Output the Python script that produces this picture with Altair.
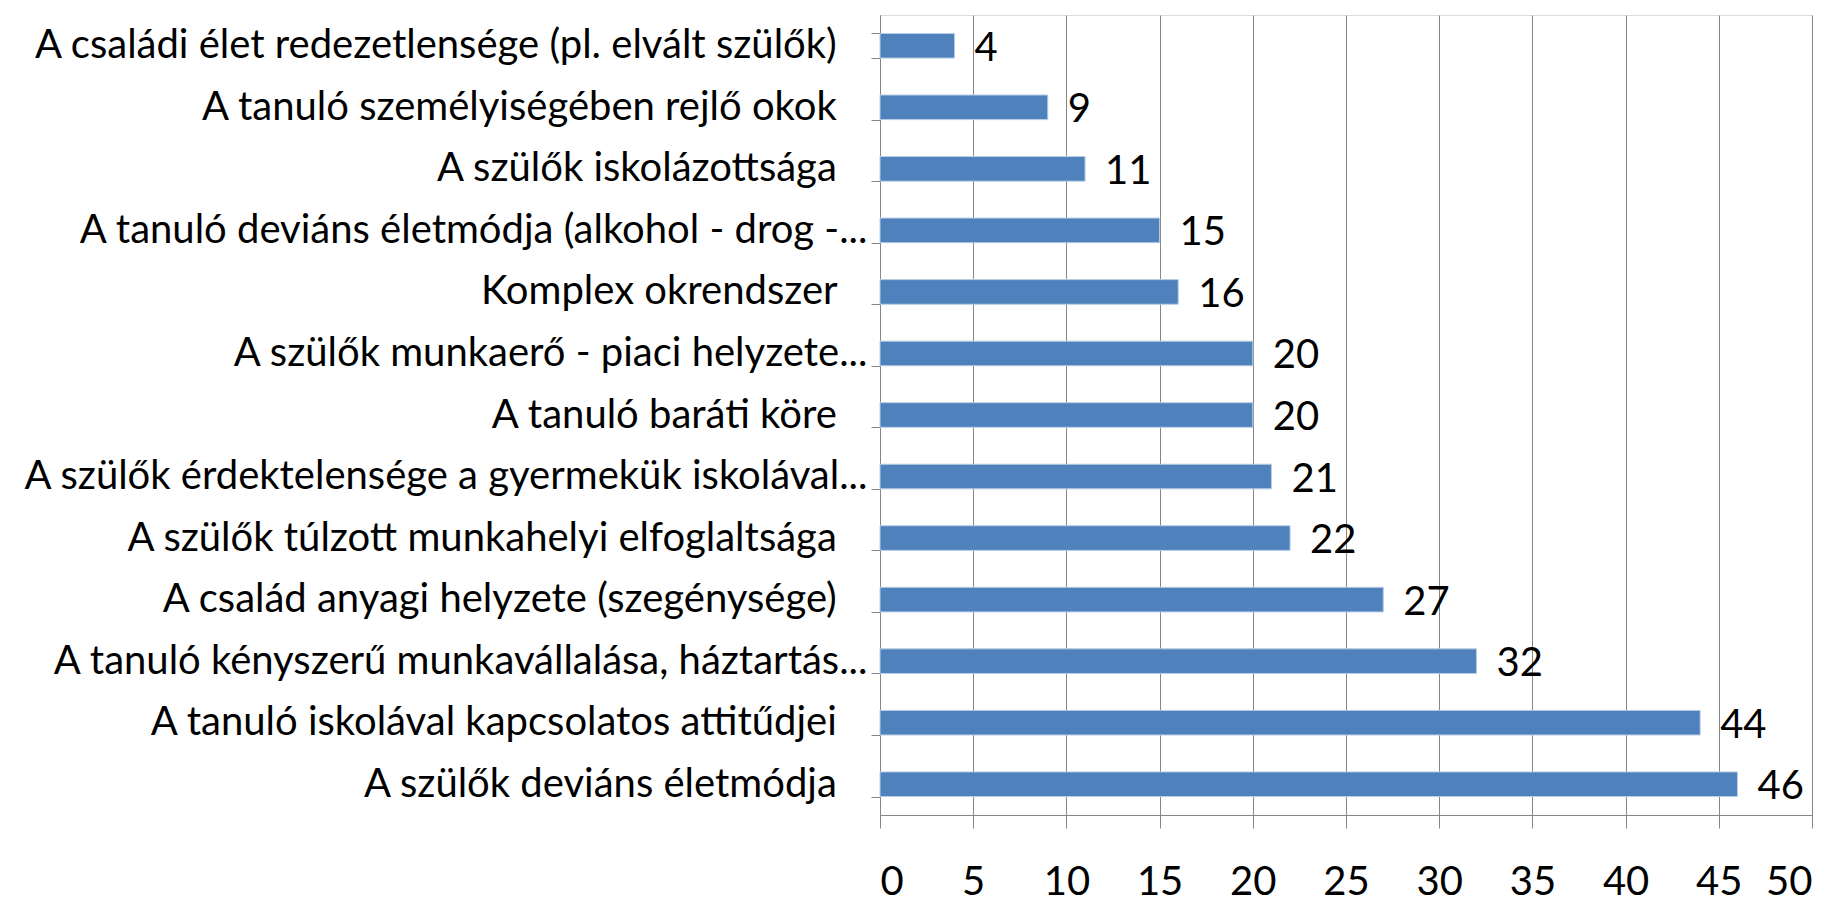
import altair as alt
import pandas as pd

NB = "\u00a0\u00a0\u00a0\u200b"
categories = [
    "A családi élet redezetlensége  (pl. elvált szülők)" + NB,
    "A tanuló személyiségében rejlő  okok" + NB,
    "A szülők iskolázottsága" + NB,
    "A tanuló deviáns életmódja (alkohol - drog -...",
    "Komplex okrendszer" + NB,
    "A szülők munkaerő - piaci helyzete...",
    "A tanuló baráti köre" + NB,
    "A szülők érdektelensége  a gyermekük iskolával...",
    "A szülők túlzott munkahelyi elfoglaltsága" + NB,
    "A család anyagi helyzete (szegénysége)" + NB,
    "A tanuló kényszerű munkavállalása, háztartás...",
    "A tanuló iskolával kapcsolatos attitűdjei" + NB,
    "A szülők deviáns életmódja" + NB,
]
values = [4, 9, 11, 15, 16, 20, 20, 21, 22, 27, 32, 44, 46]
x_ticks = [0, 5, 10, 15, 20, 25, 30, 35, 40, 45, 50]

df = pd.DataFrame({"cat": categories, "val": values})

FONT = "Lato"
FS = 40

y_enc = alt.Y(
    "cat:N",
    sort=categories,
    scale=alt.Scale(paddingInner=0.6, paddingOuter=0.3),
    axis=alt.Axis(
        title=None,
        labelFont=FONT,
        labelFontSize=FS,
        labelColor="#000000",
        labelLimit=2000,
        labelPadding=4,
        tickBand="extent",
        tickSize=9,
        tickColor="#868686",
        domainColor="#868686",
        grid=False,
    ),
)
x_enc = alt.X(
    "val:Q",
    scale=alt.Scale(domain=[0, 50], nice=False),
    axis=alt.Axis(
        title=None,
        values=x_ticks,
        labelFont=FONT,
        labelFontSize=FS,
        labelColor="#000000",
        labelPadding=34,
        tickSize=13,
        tickColor="#868686",
        domainColor="#868686",
        gridColor="#868686",
        grid=True,
    ),
)

bars = alt.Chart(df).mark_bar(color="#4F81BD", stroke="#B9CDE5", strokeWidth=1).encode(
    y=y_enc, x=x_enc
)
text = alt.Chart(df).mark_text(
    align="left", baseline="middle", dx=20, dy=3, font=FONT, fontSize=FS, color="#000000"
).encode(y=alt.Y("cat:N", sort=categories), x="val:Q", text="val:Q")

chart = (
    alt.layer(bars, text)
    .properties(
        width=932,
        height=800,
        autosize=alt.AutoSizeParams(type="none"),
        padding={"left": 872, "top": 7, "right": 19, "bottom": 87},
    )
    .configure_view(stroke=None)
    .configure(background="white")
)

chart.save("out.html", embed_options={"renderer": "svg", "actions": False})
